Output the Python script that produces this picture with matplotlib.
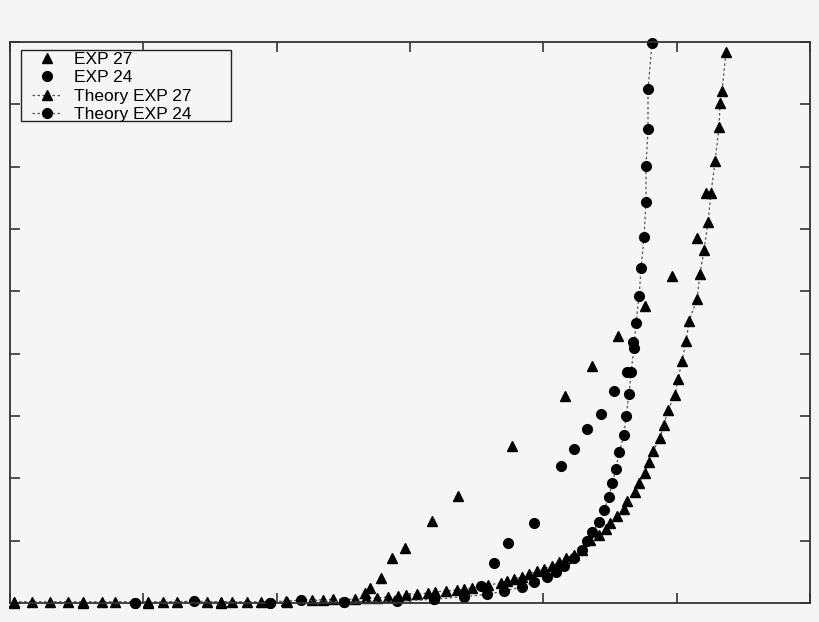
import matplotlib

matplotlib.use("Agg")
import matplotlib.pyplot as plt
from matplotlib.patches import Rectangle

plt.rcParams["font.family"] = ["Liberation Sans", "DejaVu Sans"]

# measured points (x in arbitrary units 0..60, y in 0..9)
exp27_x = [0.30, 5.48, 10.35, 15.83, 20.78, 26.63, 27.0, 27.83, 28.65, 29.63,
           31.65, 33.6, 37.65, 41.63, 43.65, 45.6, 47.63, 49.65, 51.53, 52.2]
exp27_y = [0.0, 0.0, 0.0, 0.0, 0.02, 0.16, 0.24, 0.40, 0.72, 0.88,
           1.32, 1.72, 2.52, 3.32, 3.80, 4.28, 4.76, 5.25, 5.85, 6.58]

exp24_x = [9.38, 19.5, 25.05, 31.8, 35.33, 36.3, 37.35, 39.3, 41.33, 42.3,
           43.28, 44.33, 45.3, 46.28, 46.73]
exp24_y = [0.0, 0.0, 0.02, 0.06, 0.27, 0.64, 0.96, 1.28, 2.20, 2.47,
           2.79, 3.03, 3.40, 3.71, 4.19]

theory27_x = [0.30, 1.65, 3.0, 4.35, 5.48, 6.9, 7.88, 10.35, 11.48, 12.53,
              14.78, 15.83, 16.65, 17.78, 18.83, 20.7, 22.65, 23.48, 24.23, 25.88,
              26.7, 27.53, 28.35, 29.1, 29.7, 30.53, 31.35, 31.88, 32.7, 33.53,
              34.05, 34.65, 35.85, 36.83, 37.28, 37.8, 38.4, 38.93, 39.53, 40.05,
              40.65, 41.18, 41.7, 42.3, 42.9, 43.5, 44.18, 44.7, 45.0, 45.53,
              46.05, 46.28, 46.88, 47.18, 47.63, 47.93, 48.23, 48.75, 49.05, 49.35,
              49.88, 50.1, 50.4, 50.7, 50.93, 51.53, 51.75, 52.05, 52.35, 52.58,
              52.88, 53.18, 53.25, 53.4, 53.7]
theory27_y = [0.02, 0.02, 0.02, 0.02, 0.02, 0.02, 0.02, 0.02, 0.02, 0.02,
              0.02, 0.02, 0.02, 0.02, 0.02, 0.03, 0.05, 0.05, 0.06, 0.06,
              0.08, 0.08, 0.10, 0.11, 0.13, 0.14, 0.16, 0.18, 0.19, 0.21,
              0.22, 0.24, 0.29, 0.32, 0.35, 0.38, 0.42, 0.47, 0.51, 0.55,
              0.59, 0.66, 0.72, 0.77, 0.85, 1.01, 1.09, 1.19, 1.28, 1.40,
              1.51, 1.64, 1.78, 1.92, 2.09, 2.26, 2.44, 2.65, 2.86, 3.10,
              3.34, 3.59, 3.88, 4.20, 4.52, 4.88, 5.28, 5.66, 6.11, 6.58,
              7.09, 7.64, 8.02, 8.21, 8.84]

theory24_x = [9.38, 13.8, 19.5, 21.83, 25.05, 29.03, 31.8, 34.05, 35.78, 37.05,
              38.4, 39.3, 40.28, 40.95, 41.55, 42.3, 42.9, 43.28, 43.65, 44.18,
              44.55, 44.93, 45.15, 45.45, 45.68, 46.05, 46.2, 46.43, 46.58, 46.8,
              46.95, 47.18, 47.33, 47.55, 47.7, 47.7, 47.85, 47.85, 48.15]
theory24_y = [0.0, 0.03, 0.0, 0.05, 0.02, 0.03, 0.06, 0.10, 0.14, 0.19,
              0.26, 0.34, 0.42, 0.50, 0.59, 0.72, 0.85, 0.99, 1.14, 1.30,
              1.49, 1.70, 1.92, 2.15, 2.42, 2.69, 3.00, 3.35, 3.71, 4.09,
              4.49, 4.92, 5.37, 5.87, 6.43, 7.01, 7.60, 8.24, 8.98]

bg = "#f5f5f5"
fig = plt.figure(figsize=(8.2, 6.22), dpi=100, facecolor=bg)
ax = fig.add_axes([10 / 820, 19 / 622, 800 / 820, 561 / 622], facecolor=bg)

ax.plot(exp27_x, exp27_y, ls="none", marker="^", ms=6.5, color="black",
        label="EXP 27", clip_on=False, zorder=3)
ax.plot(exp24_x, exp24_y, ls="none", marker="o", ms=7, color="black",
        label="EXP 24", clip_on=False, zorder=3)
ax.plot(theory27_x, theory27_y, ls=(0, (2, 2)), lw=0.9, color="#555555",
        marker="^", ms=6.5, mfc="black", mec="black",
        label="Theory EXP 27", clip_on=False, zorder=2)
ax.plot(theory24_x, theory24_y, ls=(0, (2, 2)), lw=0.9, color="#555555",
        marker="o", ms=7, mfc="black", mec="black",
        label="Theory EXP 24", clip_on=False, zorder=2)

ax.set_xlim(0, 60)
ax.set_ylim(0, 9)
ax.set_xticks(range(0, 61, 10))
ax.set_yticks(range(0, 10))
ax.tick_params(direction="in", length=7, width=1.2, color="#333333",
               top=True, right=True, labelbottom=False, labelleft=False)
for spine in ax.spines.values():
    spine.set_color("#333333")
    spine.set_linewidth(1.3)

# legend box is wider than its contents, so draw the frame separately
frame = Rectangle((21 / 820, 501 / 622), 210 / 820, 71 / 622,
                  transform=fig.transFigure, facecolor=bg, edgecolor="#222222",
                  linewidth=1.0, zorder=4)
fig.add_artist(frame)
leg = fig.legend(*ax.get_legend_handles_labels(), loc="upper left",
                 bbox_to_anchor=(32 / 820, 570 / 622), borderaxespad=0,
                 borderpad=0, fontsize=12.5, labelspacing=0.18,
                 handlelength=1.7, handletextpad=0.7, frameon=False)
leg.set_zorder(5)

fig.savefig("out.png", dpi=100, facecolor=bg)
